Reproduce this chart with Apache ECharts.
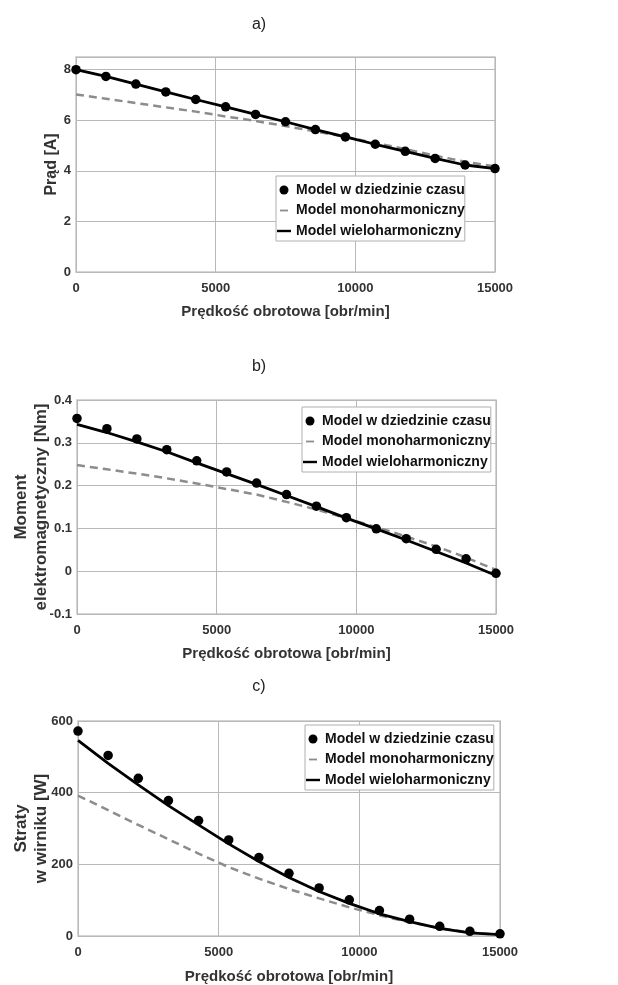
<!DOCTYPE html>
<html>
<head>
<meta charset="utf-8">
<script src="https://cdn.jsdelivr.net/npm/echarts@6/dist/echarts.min.js"></script>
<style>
  html, body { margin: 0; padding: 0; background: #fff; }
  #main { width: 618px; height: 985px; }
</style>
</head>
<body>
<div id="main"></div>
<script>
// predkosc obrotowa [obr/min] - punkty pomiarowe
var speed = [0, 1071, 2143, 3214, 4286, 5357, 6429, 7500, 8571, 9643, 10714, 11786, 12857, 13929, 15000];

// a) Prad [A]
var currTime  = [8.00, 7.73, 7.43, 7.12, 6.82, 6.53, 6.23, 5.94, 5.63, 5.34, 5.05, 4.77, 4.49, 4.23, 4.09];
var currMono  = [7.02, 6.85, 6.68, 6.51, 6.34, 6.15, 5.97, 5.77, 5.56, 5.34, 5.10, 4.86, 4.60, 4.36, 4.17];
var currMulti = [8.00, 7.73, 7.43, 7.12, 6.82, 6.53, 6.23, 5.94, 5.63, 5.34, 5.05, 4.77, 4.49, 4.23, 4.09];

// b) Moment elektromagnetyczny [Nm]
var torqTime  = [0.357, 0.333, 0.309, 0.284, 0.258, 0.232, 0.206, 0.179, 0.152, 0.125, 0.099, 0.076, 0.051, 0.029, -0.005];
var torqMono  = [0.248, 0.238, 0.228, 0.217, 0.205, 0.192, 0.179, 0.162, 0.144, 0.124, 0.103, 0.081, 0.058, 0.032, 0.003];
var torqMulti = [0.343, 0.324, 0.302, 0.279, 0.253, 0.228, 0.203, 0.177, 0.151, 0.124, 0.099, 0.073, 0.046, 0.019, -0.010];

// c) Straty w wirniku [W]
var lossTime  = [572, 504, 440, 378, 322, 268, 219, 175, 134, 101, 71, 47, 27, 13, 6];
var lossMono  = [392, 351, 310, 270, 230, 192, 160, 131, 105, 80, 58, 38, 22, 10, 3];
var lossMulti = [546, 482, 422, 364, 310, 257, 208, 163, 124, 91, 62, 40, 21, 9, 4];

var names = ['Model w dziedzinie czasu', 'Model monoharmoniczny', 'Model wieloharmoniczny'];
var panelTitles = ['a)', 'b)', 'c)'];
var yNames = ['Prąd [A]', 'Moment\nelektromagnetyczny [Nm]', 'Straty\nw wirniku [W]'];
var xName = 'Prędkość obrotowa [obr/min]';

var FONT = '"Liberation Sans", Arial, sans-serif';

// ikony legendy: krotka kreska / pelna linia (M0,0 M14,9 ustala ramke ikony)
var ICON_DASH = 'path://M0,0M14,9M3,3.6H11V5.4H3Z';
var ICON_LINE = 'path://M0,0M14,9M0,3.3H14V5.7H0Z';

function pairs(ys) {
    var out = [];
    for (var i = 0; i < speed.length; i++) {
        out.push([speed[i], ys[i]]);
    }
    return out;
}

var panels = [
    { grid: { left: 76, top: 57, width: 419, height: 215 }, y: { min: 0, max: 8.5, interval: 2 },
      xGap: 32, yGap: 14, yFont: 16, legend: { left: 276, top: 176 }, titleTop: 12,
      data: [currTime, currMono, currMulti] },
    { grid: { left: 77, top: 400, width: 419, height: 214 }, y: { min: -0.1, max: 0.4, interval: 0.1 },
      xGap: 32, yGap: 26, yFont: 17, legend: { left: 302, top: 407 }, titleTop: 354,
      data: [torqTime, torqMono, torqMulti] },
    { grid: { left: 78, top: 721, width: 422, height: 215 }, y: { min: 0, max: 600, interval: 200 },
      xGap: 33, yGap: 27, yFont: 17, legend: { left: 305, top: 725 }, titleTop: 674,
      data: [lossTime, lossMono, lossMulti] }
];

var option = {
    backgroundColor: '#fff',
    animation: false,
    title: [], grid: [], xAxis: [], yAxis: [], legend: [], series: []
};

panels.forEach(function (p, k) {
    option.title.push({
        text: panelTitles[k], left: 254, top: p.titleTop, textAlign: 'center',
        textStyle: { fontFamily: FONT, fontSize: 16, fontWeight: 'normal', color: '#222' }
    });
    option.grid.push(Object.assign({
        show: true, borderColor: '#c6c6c6', borderWidth: 1.5, outerBoundsMode: 'none'
    }, p.grid));
    option.xAxis.push({
        type: 'value', gridIndex: k, min: 0, max: 15000, interval: 5000,
        name: xName, nameLocation: 'middle', nameGap: p.xGap, nameMoveOverlap: false,
        nameTextStyle: { fontFamily: FONT, fontSize: 15, fontWeight: 'bold', color: '#333' },
        axisLine: { show: false }, axisTick: { show: false },
        axisLabel: {
            margin: 10, fontFamily: FONT, fontSize: 13, fontWeight: 'bold', color: '#333',
            formatter: function (v) { return String(v); }
        },
        splitLine: { lineStyle: { color: '#b8b8b8', width: 1 } }
    });
    var interval = p.y.interval;
    option.yAxis.push({
        type: 'value', gridIndex: k, min: p.y.min, max: p.y.max, interval: interval,
        name: yNames[k], nameLocation: 'middle', nameGap: p.yGap, nameMoveOverlap: false,
        nameTextStyle: { fontFamily: FONT, fontSize: p.yFont, fontWeight: 'bold', color: '#333', lineHeight: 20 },
        axisLine: { show: false }, axisTick: { show: false },
        axisLabel: {
            margin: 5, fontFamily: FONT, fontSize: 13, fontWeight: 'bold', color: '#333',
            formatter: function (v) {
                // tylko pelne podzialki (bez 8.5)
                var r = Math.round(v / interval);
                return Math.abs(v / interval - r) < 1e-6 ? String(+v.toFixed(2)) : '';
            }
        },
        splitLine: { lineStyle: { color: '#b8b8b8', width: 1 } }
    });
    option.legend.push({
        left: p.legend.left, top: p.legend.top, orient: 'vertical',
        data: [
            { name: names[0], icon: 'circle' },
            { name: names[1], icon: ICON_DASH },
            { name: names[2], icon: ICON_LINE }
        ],
        selectedMode: false,
        backgroundColor: '#fff', borderColor: '#b0b0b0', borderWidth: 1,
        padding: [7, 0, 3, 1], itemGap: 6.5, itemWidth: 14, itemHeight: 9,
        textStyle: { fontFamily: FONT, fontSize: 14, fontWeight: 'bold', color: '#111' }
    });
    option.series.push({
        name: names[0], type: 'scatter', xAxisIndex: k, yAxisIndex: k, z: 5,
        symbol: 'circle', symbolSize: 9.5, itemStyle: { color: '#000', opacity: 1 },
        data: pairs(p.data[0])
    });
    option.series.push({
        name: names[1], type: 'line', xAxisIndex: k, yAxisIndex: k, z: 3,
        symbol: 'none', lineStyle: { color: '#8c8c8c', width: 2.5, type: [8, 5] },
        itemStyle: { color: '#8c8c8c' },
        data: pairs(p.data[1])
    });
    option.series.push({
        name: names[2], type: 'line', xAxisIndex: k, yAxisIndex: k, z: 4,
        symbol: 'none', lineStyle: { color: '#000', width: 2.8 },
        itemStyle: { color: '#000' },
        data: pairs(p.data[2])
    });
});

var chart = echarts.init(document.getElementById('main'), null, { renderer: 'canvas' });
chart.setOption(option);
</script>
</body>
</html>
